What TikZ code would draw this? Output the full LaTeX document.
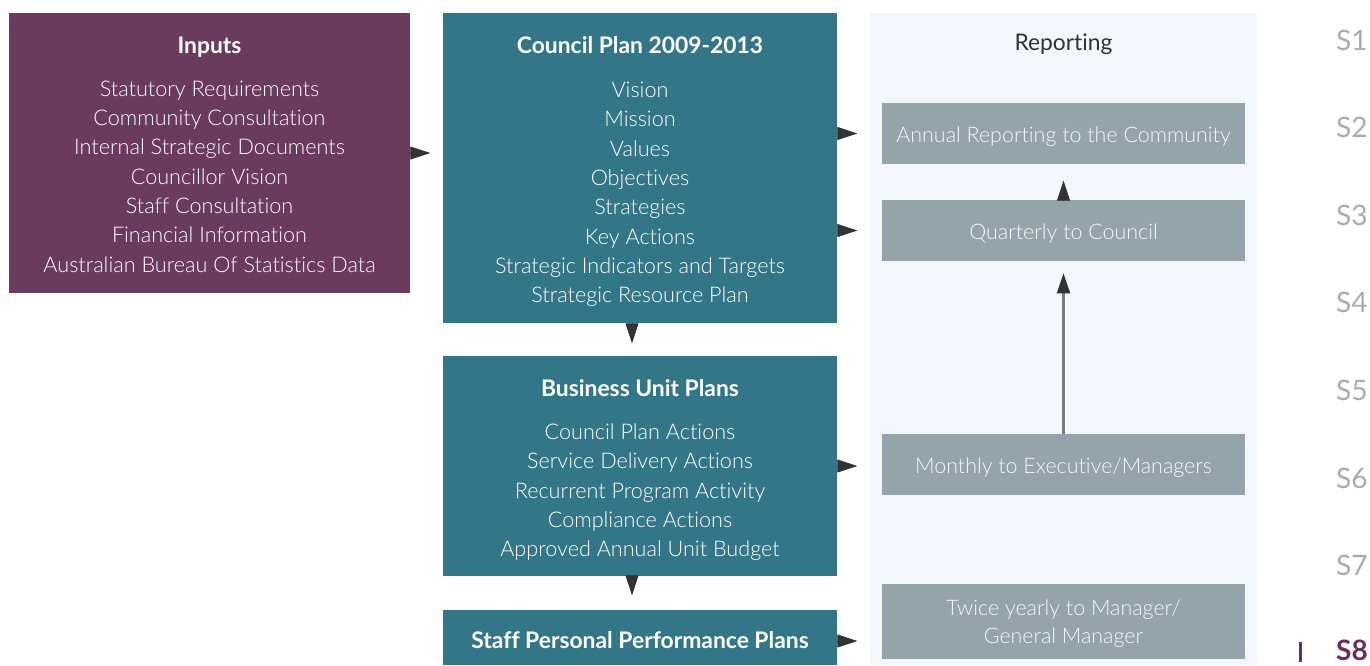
\documentclass[tikz,border=0pt]{standalone}
\usepackage{fontspec}
\setmainfont{Lato}[UprightFont=* Light, BoldFont=* Bold, Ligatures=NoCommon]
\newfontfamily\latoreg{Lato}[Ligatures=NoCommon]
\usetikzlibrary{positioning,arrows.meta}
\definecolor{inpurple}{HTML}{6A3A5F}
\definecolor{planteal}{HTML}{337688}
\definecolor{repgray}{HTML}{93A4AA}
\definecolor{reppanel}{HTML}{F3F6FA}
\definecolor{tipdark}{HTML}{333333}
\definecolor{linegray}{HTML}{7A7A7A}
\definecolor{pagegray}{HTML}{ABABAB}
\definecolor{pagepurple}{HTML}{6B2F5E}

% titles in the blocks, with a strut that pushes the text block down a little
\newcommand{\blocktitle}[2]{\rule{0pt}{#1}{\fontsize{13}{16.7}\selectfont\bfseries #2}}
\newcommand{\topstrut}[1]{\rule{0pt}{#1}}

\tikzset{
  block/.style={text=white, align=center, inner sep=0pt, font=\fontsize{12.3}{16.7}\selectfont},
  repbox/.style={fill=repgray, text=white!92!repgray, align=center, inner sep=0pt,
    minimum width=7.26cm, minimum height=1.22cm, font=\fontsize{12.2}{16}\selectfont},
  tip/.style={tipdark, -{Triangle[length=0.4cm,width=0.26cm]}},
  pagenum/.style={pagegray, font=\latoreg\fontsize{16}{16}\selectfont},
}

\begin{document}
\begin{tikzpicture}[x=0.02cm, y=-0.02cm]
    \useasboundingbox (0,0) rectangle (1370,666);
    % reporting column
    \fill[reppanel] (870,13) rectangle (1257,665);
    \node[font=\latoreg\fontsize{13}{16}\selectfont, text=tipdark] (reporting) at (1063.5,43) {\topstrut{11pt}Reporting};
    \node[repbox] (annual) at (1063.5,133.5) {\topstrut{12.2pt}Annual Reporting to the Community};
    \node[repbox] (quarterly) at (1063.5,230.5) {\topstrut{12.2pt}Quarterly to Council};
    \node[repbox] (monthly) at (1063.5,464.5) {\topstrut{13pt}Monthly to Executive/Managers};
    \node[repbox, minimum height=1.5cm] (twice) at (1063.5,621.5) {\topstrut{11pt}Twice yearly to Manager/\\General Manager};

    % planning blocks
    \node[block, fill=inpurple, minimum width=8.02cm, minimum height=5.6cm] (inputs) at (209.5,153)
      {\blocktitle{11.5pt}{Inputs}\\[7.5pt] Statutory Requirements\\ Community Consultation\\ Internal Strategic Documents\\
       Councillor Vision\\ Staff Consultation\\ Financial Information\\ Australian Bureau Of Statistics Data};
    \node[block, fill=planteal, minimum width=7.88cm, minimum height=6.2cm] (plan) at (640,168)
      {\blocktitle{13.7pt}{Council Plan 2009-2013}\\[8.5pt] Vision\\ Mission\\ Values\\ Objectives\\ Strategies\\
       Key Actions\\ Strategic Indicators and Targets\\ Strategic Resource Plan};
    \node[block, fill=planteal, minimum width=7.88cm, minimum height=4.4cm] (bu) at (640,466)
      {\blocktitle{14.3pt}{Business Unit Plans}\\[8pt] Council Plan Actions\\ Service Delivery Actions\\
       Recurrent Program Activity\\ Compliance Actions\\ Approved Annual Unit Budget};
    \node[block, fill=planteal, minimum width=7.88cm, minimum height=1.1cm] (staff) at (640,637.5)
      {\blocktitle{13pt}{Staff Personal Performance Plans}};

    % arrows
    \draw[tip] (inputs.east) -- ++(20,0);
    \draw[tip] (plan.east |- annual) -- ++(20,0);
    \draw[tip] (plan.east |- quarterly) -- ++(20,0);
    \draw[tip] (bu.east) -- ++(20,0);
    \draw[tip] ([yshift=-0.07cm]staff.east) -- ++(20,0);
    \draw[tip] ([xshift=-0.16cm]plan.south) -- ++(0,20);
    \draw[tip] ([xshift=-0.16cm]bu.south) -- ++(0,19);
    \draw[tip] (quarterly.north) -- ++(0,-19);
    \draw[linegray, line width=1.2pt, -{Triangle[length=0.4cm,width=0.26cm,color=tipdark]},
      shorten >=0.24cm] (monthly) -- (quarterly);

    % section tabs
    \foreach \n/\y in {1/40,2/127,3/215,4/302,5/390,6/478,7/565}
      \node[pagenum] (s\n) at (1352,\y) {S\n};
    \node[pagenum, text=pagepurple, font=\latoreg\fontsize{16}{16}\selectfont\bfseries] (s8) at (1352,650) {S8};
    \draw[pagepurple, line width=1.7pt] (1300,642) -- (1300,662);
\end{tikzpicture}
\end{document}
